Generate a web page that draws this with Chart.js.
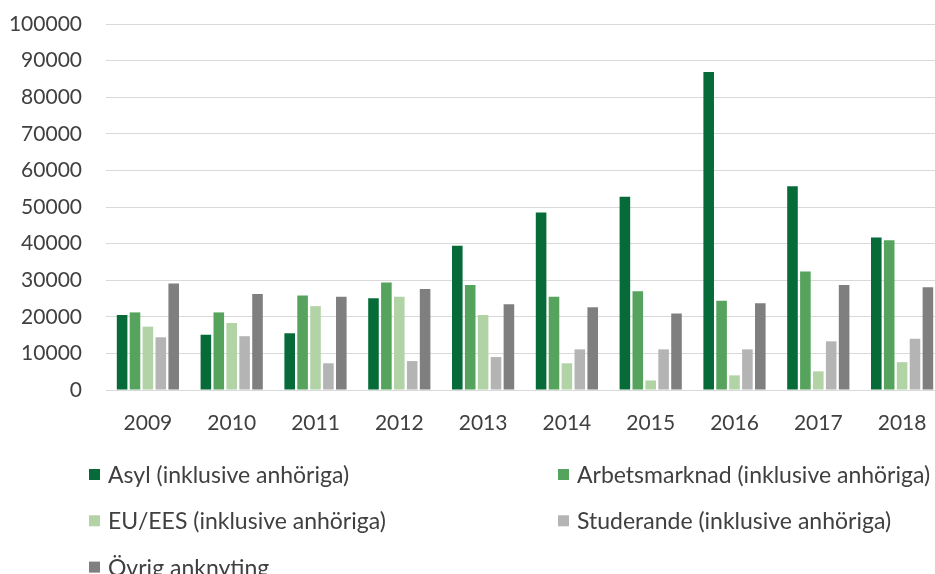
<!DOCTYPE html>
<html>
<head>
<meta charset="utf-8">
<script src="https://cdn.jsdelivr.net/npm/chart.js@4/dist/chart.umd.min.js"></script>
<style>
  html, body { margin: 0; padding: 0; background: #fff; overflow: hidden; }
  #wrap { position: relative; width: 944px; height: 574px; }
</style>
</head>
<body>
<div id="wrap"><canvas id="c"></canvas></div>
<script>
const years = ['2009','2010','2011','2012','2013','2014','2015','2016','2017','2018'];
const seriesNames = ['Asyl (inklusive anhöriga)','Arbetsmarknad (inklusive anhöriga)','EU/EES (inklusive anhöriga)','Studerande (inklusive anhöriga)','Övrig anknyting'];
const asyl   = [20500, 15100, 15500, 25100, 39400, 48500, 52800, 86900, 55700, 41700];
const arbets = [21200, 21200, 25800, 29400, 28700, 25500, 27000, 24400, 32400, 40900];
const euees  = [17300, 18300, 22900, 25500, 20500, 7300, 2600, 4000, 5100, 7600];
const stud   = [14400, 14700, 7300, 7900, 9000, 11100, 11100, 11100, 13300, 14000];
const ovrig  = [29100, 26200, 25500, 27600, 23400, 22600, 20900, 23700, 28700, 28100];
const colors = ['#066b38','#55a35c','#b1d3a6','#b4b4b4','#7f7f7f'];

const FONT = 'Lato, "Liberation Sans", sans-serif';
const TEXT = '#404040';

const twoColLegend = {
  id: 'twoColLegend',
  afterDraw(chart) {
    const ctx = chart.ctx;
    ctx.save();
    ctx.font = '23px ' + FONT;
    ctx.textBaseline = 'middle';
    ctx.textAlign = 'left';
    chart.data.datasets.forEach((ds, i) => {
      const col = i % 2, row = Math.floor(i / 2);
      const bx = col ? 558 : 89;
      const cy = 474.5 + row * 46.3;
      ctx.fillStyle = ds.backgroundColor;
      ctx.fillRect(bx, cy - 5.5, 11, 11);
      ctx.fillStyle = TEXT;
      ctx.fillText(ds.label, bx + 19, cy + 1);
    });
    ctx.restore();
  }
};

const dataArrays = [asyl, arbets, euees, stud, ovrig];
new Chart(document.getElementById('c'), {
  type: 'bar',
  data: {
    labels: years,
    datasets: dataArrays.map((d, i) => ({
      label: seriesNames[i],
      data: d,
      backgroundColor: colors[i],
      borderWidth: 0,
      categoryPercentage: 0.77,
      barPercentage: 0.82
    }))
  },
  options: {
    responsive: true,
    maintainAspectRatio: false,
    animation: false,
    layout: { padding: { top: 24, left: 0, right: 0, bottom: 124 } },
    plugins: { legend: { display: false }, tooltip: { enabled: false } },
    scales: {
      x: {
        grid: { display: false, drawTicks: false },
        border: { color: '#d9d9d9', width: 1 },
        ticks: { color: TEXT, font: { family: FONT, size: 21 }, padding: 21 },
        afterFit(s) { s.height = 60; s.paddingLeft = 0; s.paddingRight = 0; }
      },
      y: {
        min: 0, max: 100000,
        ticks: { stepSize: 10000, color: TEXT, font: { family: FONT, size: 21 }, padding: 24,
                 callback: v => String(v) },
        grid: { color: '#d9d9d9', lineWidth: 1, drawTicks: false },
        border: { display: false },
        afterFit(s) { s.width = 106; s.paddingTop = 0; s.paddingBottom = 0; }
      }
    }
  },
  plugins: [twoColLegend]
});
</script>
</body>
</html>
